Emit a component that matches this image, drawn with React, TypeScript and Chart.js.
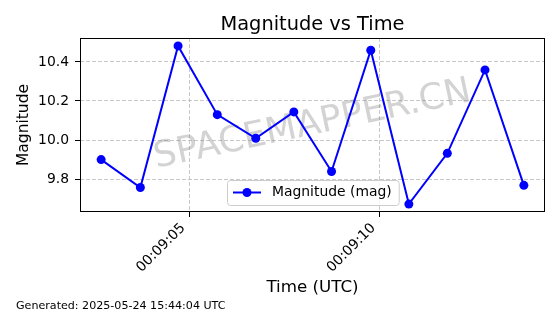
import React, { useEffect, useRef } from 'react';
import { Chart, registerables } from 'chart.js';

Chart.register(...registerables);

// ---- data ----
const times: string[] = [
  '00:09:02.69', '00:09:03.72', '00:09:04.71', '00:09:05.74', '00:09:06.75', '00:09:07.75',
  '00:09:08.74', '00:09:09.77', '00:09:10.77', '00:09:11.78', '00:09:12.77', '00:09:13.79',
];
const magnitudes: number[] = [9.9, 9.757, 10.482, 10.13, 10.009, 10.144, 9.839, 10.46, 9.672, 9.932, 10.359, 9.768];
const xTickLabels: string[] = ['00:09:05', '00:09:10'];
const yTicks: number[] = [9.8, 10.0, 10.2, 10.4];
const seriesLabel = 'Magnitude (mag)';
const chartTitle = 'Magnitude vs Time';
const xTitle = 'Time (UTC)';
const yTitle = 'Magnitude';
const footerText = 'Generated: 2025-05-24 15:44:04 UTC';
const watermarkText = 'SPACEMAPPER.CN';

const FONT = "'DejaVu Sans', 'Noto Sans', sans-serif";

function toSec(s: string): number {
  const [h, m, sec] = s.split(':');
  return Number(h) * 3600 + Number(m) * 60 + Number(sec);
}
function fmt(v: number): string {
  const t = Math.round(v);
  const h = Math.floor(t / 3600);
  const m = Math.floor((t % 3600) / 60);
  const s = t % 60;
  const p = (n: number) => String(n).padStart(2, '0');
  return `${p(h)}:${p(m)}:${p(s)}`;
}

const xs = times.map(toSec);
const xMinD = Math.min(...xs), xMaxD = Math.max(...xs);
const yMinD = Math.min(...magnitudes), yMaxD = Math.max(...magnitudes);
const xPad = (xMaxD - xMinD) * 0.05;
const yPad = (yMaxD - yMinD) * 0.05;

const decor = {
  id: 'decor',
  beforeDatasetsDraw(chart: any) {
    const { ctx, chartArea: a } = chart;
    ctx.save();
    ctx.translate((a.left + a.right) / 2, (a.top + a.bottom) / 2);
    ctx.rotate((-12 * Math.PI) / 180);
    ctx.font = `36px ${FONT}`;
    ctx.fillStyle = 'rgba(128,128,128,0.35)';
    ctx.textAlign = 'center';
    ctx.textBaseline = 'middle';
    ctx.fillText(watermarkText, 0, 0);
    ctx.restore();
  },
  afterDraw(chart: any) {
    const { ctx, chartArea: a } = chart;
    ctx.save();
    // frame
    ctx.strokeStyle = '#000';
    ctx.lineWidth = 1;
    ctx.strokeRect(a.left + 0.5, a.top + 0.5, a.right - a.left - 1, a.bottom - a.top - 1);
    // title
    ctx.fillStyle = '#000';
    ctx.font = `19.4px ${FONT}`;
    ctx.textAlign = 'center';
    ctx.textBaseline = 'alphabetic';
    ctx.fillText(chartTitle, (a.left + a.right) / 2, 30);
    // legend
    ctx.font = `13.9px ${FONT}`;
    const tw = ctx.measureText(seriesLabel).width;
    const bx = 227, by = 180, bh = 25;
    const bw = 272 - bx + tw + 7;
    ctx.beginPath();
    (ctx as any).roundRect(bx + 0.5, by + 0.5, bw, bh, 3);
    ctx.fillStyle = 'rgba(255,255,255,0.8)';
    ctx.fill();
    ctx.strokeStyle = '#cccccc';
    ctx.lineWidth = 1;
    ctx.stroke();
    const ly = by + bh / 2;
    ctx.strokeStyle = '#0000ff';
    ctx.lineWidth = 2;
    ctx.beginPath();
    ctx.moveTo(233, ly);
    ctx.lineTo(261, ly);
    ctx.stroke();
    ctx.fillStyle = '#0000ff';
    ctx.beginPath();
    ctx.arc(247, ly, 4.5, 0, Math.PI * 2);
    ctx.fill();
    ctx.fillStyle = '#000';
    ctx.textAlign = 'left';
    ctx.textBaseline = 'middle';
    ctx.fillText(seriesLabel, 272, ly);
    // footer
    ctx.font = `11.1px ${FONT}`;
    ctx.textBaseline = 'alphabetic';
    ctx.fillText(footerText, 16, 308.5);
    ctx.restore();
  },
};

export default function App() {
  const ref = useRef<HTMLCanvasElement | null>(null);
  useEffect(() => {
    if (!ref.current) return;
    Chart.defaults.font.family = FONT;
    const chart = new Chart(ref.current, {
      type: 'line',
      data: {
        datasets: [
          {
            label: seriesLabel,
            data: xs.map((x, i) => ({ x, y: magnitudes[i] })),
            borderColor: '#0000ff',
            backgroundColor: '#0000ff',
            borderWidth: 2,
            pointRadius: 4.5,
            pointBorderWidth: 0,
            pointBackgroundColor: '#0000ff',
            tension: 0,
          },
        ],
      },
      options: {
        animation: false,
        responsive: false,
        devicePixelRatio: 1,
        layout: { padding: { left: 0, right: 15, top: 38, bottom: 0 } },
        plugins: { legend: { display: false }, tooltip: { enabled: false }, title: { display: false } },
        scales: {
          x: {
            type: 'linear',
            min: xMinD - xPad,
            max: xMaxD + xPad,
            afterBuildTicks: (s: any) => {
              s.ticks = xTickLabels.map((l) => ({ value: toSec(l) }));
            },
            afterFit: (s: any) => {
              s.height = 102;
            },
            ticks: {
              autoSkip: false,
              minRotation: 45,
              maxRotation: 45,
              padding: 3,
              labelOffset: -6,
              color: '#000',
              font: { size: 13.9 },
              callback: (v: any) => fmt(Number(v)),
            },
            grid: {
              color: 'rgba(176,176,176,0.7)',
              lineWidth: 1,
              tickLength: 5,
              tickColor: '#000',
              tickBorderDash: [],
            },
            border: { display: false, dash: [4, 2] },
            title: {
              display: true,
              text: xTitle,
              color: '#000',
              font: { size: 16.7 },
              padding: { top: 0, bottom: 16.5 },
            },
          },
          y: {
            type: 'linear',
            min: yMinD - yPad,
            max: yMaxD + yPad,
            afterBuildTicks: (s: any) => {
              s.ticks = yTicks.map((v) => ({ value: v }));
            },
            afterFit: (s: any) => {
              s.width = 80;
            },
            ticks: {
              padding: 6,
              color: '#000',
              font: { size: 13.9 },
              callback: (v: any) => Number(v).toFixed(1),
            },
            grid: {
              color: 'rgba(176,176,176,0.7)',
              lineWidth: 1,
              tickLength: 5,
              tickColor: '#000',
              tickBorderDash: [],
            },
            border: { display: false, dash: [4, 2] },
            title: {
              display: true,
              text: yTitle,
              color: '#000',
              font: { size: 15.5 },
              padding: { top: 15, bottom: 0 },
            },
          },
        },
      },
      plugins: [decor],
    } as any);
    return () => chart.destroy();
  }, []);
  return (
    <div style={{ position: 'absolute', left: 0, top: 0, width: 560, height: 314, background: '#fff' }}>
      <canvas ref={ref} width={560} height={314} style={{ width: 560, height: 314, display: 'block' }} />
    </div>
  );
}
